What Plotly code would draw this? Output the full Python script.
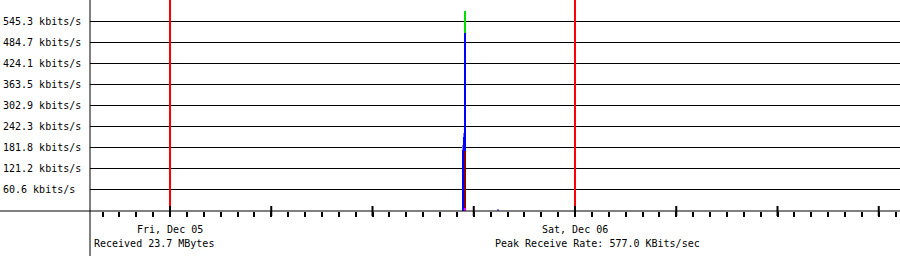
import plotly.graph_objects as go

# ---- data ----
y_tick_values = [60.6, 121.2, 181.8, 242.3, 302.9, 363.5, 424.1, 484.7, 545.3]
y_tick_labels = ["60.6 kbits/s", "121.2 kbits/s", "181.8 kbits/s", "242.3 kbits/s",
                 "302.9 kbits/s", "363.5 kbits/s", "424.1 kbits/s", "484.7 kbits/s",
                 "545.3 kbits/s"]

day_starts = ["2014-12-05 00:00:00", "2014-12-06 00:00:00"]
day_labels = ["Fri, Dec 05", "Sat, Dec 06"]
major_ticks = ["2014-12-05 00:00:00", "2014-12-05 06:00:00", "2014-12-05 12:00:00",
               "2014-12-05 18:00:00", "2014-12-06 00:00:00", "2014-12-06 06:00:00",
               "2014-12-06 12:00:00", "2014-12-06 18:00:00"]
x_start = "2014-12-04 19:15:33"
x_end = "2014-12-06 19:15:33"

# series (kbits/s) drawn as overlaid samples
total_times = ["2014-12-05 17:29:00"]
total_vals = [577.0]
udp_light_times = ["2014-12-05 17:22:00", "2014-12-05 17:25:30", "2014-12-05 19:26:00"]
udp_light_vals = [190.0, 225.0, 6.0]
tcp_times = ["2014-12-05 17:22:00", "2014-12-05 17:25:30", "2014-12-05 17:29:00"]
tcp_vals = [176.0, 214.0, 512.0]
http_times = ["2014-12-05 17:29:00"]
http_vals = [172.0]
other_times = ["2014-12-05 17:29:00"]
other_vals = [10.0]

received_text = "Received 23.7 MBytes"
peak_text = "Peak Receive Rate: 577.0 KBits/sec"

# ---- figure ----
PLOT_H = 211.0
PLOT_W = 810.0
px_y = lambda p: p / PLOT_H
px_x = lambda p: p / PLOT_W
BAR_W = 213000  # ms ~ one pixel
FONT = "DejaVu Sans Mono"

fig = go.Figure()
for times, vals, color in [
    (total_times, total_vals, "#00dd00"),
    (udp_light_times, udp_light_vals, "#8080ff"),
    (tcp_times, tcp_vals, "#0000ff"),
    (http_times, http_vals, "#8b0000"),
    (other_times, other_vals, "#ff00ff"),
]:
    fig.add_trace(go.Bar(x=times, y=vals, width=[BAR_W] * len(times),
                         marker=dict(color=color, line=dict(width=0)),
                         hoverinfo="skip"))

shapes = []
# full-width x axis line
shapes.append(dict(type="line", xref="paper", yref="paper",
                   x0=px_x(-90), x1=1, y0=0, y1=0,
                   line=dict(color="black", width=1)))
# vertical axis line
shapes.append(dict(type="line", xref="paper", yref="paper",
                   x0=0, x1=0, y0=px_y(-45), y1=1,
                   line=dict(color="black", width=1)))
# red day separators
for d in day_starts:
    shapes.append(dict(type="line", xref="x", yref="paper",
                       x0=d, x1=d, y0=px_y(5), y1=1,
                       line=dict(color="#ff0000", width=2)))
# major ticks (above and below axis)
for t in major_ticks:
    shapes.append(dict(type="line", xref="x", yref="paper",
                       x0=t, x1=t, y0=px_y(-5), y1=px_y(5),
                       line=dict(color="black", width=2)))

annotations = []
for v, lab in zip(y_tick_values, y_tick_labels):
    annotations.append(dict(text=lab, xref="paper", yref="y", x=px_x(-89), y=v,
                            xanchor="left", yanchor="middle", showarrow=False,
                            font=dict(family=FONT, size=10, color="black")))
for d, lab in zip(day_starts, day_labels):
    annotations.append(dict(text=lab, xref="x", yref="paper", x=d, y=px_y(-18),
                            xanchor="center", yanchor="middle", showarrow=False,
                            font=dict(family=FONT, size=10, color="black")))
annotations.append(dict(text=received_text, xref="paper", yref="paper",
                        x=px_x(2), y=px_y(-32.5), xanchor="left", yanchor="middle",
                        showarrow=False, font=dict(family=FONT, size=10, color="black")))
annotations.append(dict(text=peak_text, xref="paper", yref="paper",
                        x=0.5 - px_x(2), y=px_y(-32.5), xanchor="left", yanchor="middle",
                        showarrow=False, font=dict(family=FONT, size=10, color="black")))

fig.update_layout(
    width=900, height=256,
    margin=dict(l=90, r=0, t=0, b=45, pad=0),
    paper_bgcolor="white", plot_bgcolor="white",
    showlegend=False, barmode="overlay", bargap=0,
    shapes=shapes, annotations=annotations,
    xaxis=dict(type="date", range=[x_start, x_end], showgrid=False, zeroline=False,
               showline=False, showticklabels=False, ticks="outside",
               tick0="2014-12-05 00:00:00", dtick=3600000, ticklen=5, tickwidth=2,
               tickcolor="black", fixedrange=True),
    yaxis=dict(range=[0, 60.59 * PLOT_H / 21.05], tickvals=y_tick_values,
               showticklabels=False, showgrid=True, gridcolor="black", gridwidth=1,
               zeroline=False, showline=False, ticks="", fixedrange=True),
)

fig.write_html("out.html")
